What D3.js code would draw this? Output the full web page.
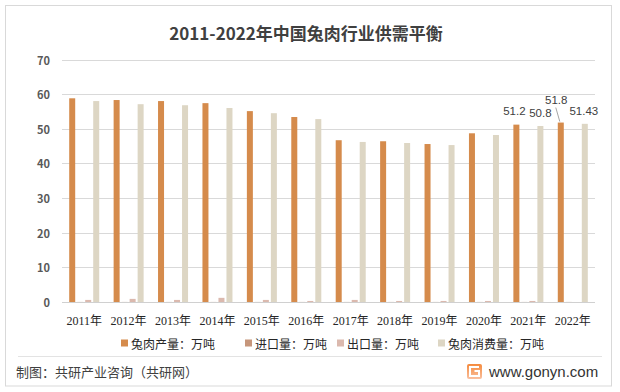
<!DOCTYPE html>
<html lang="zh">
<head>
<meta charset="UTF-8" />
<title>2011-2022年中国兔肉行业供需平衡</title>
<script src="https://d3js.org/d3.v7.min.js"></script>
<style>
  body { margin: 0; background: #fff; }
  svg { display: block; font-family: "Noto Sans CJK SC", "Noto Sans", sans-serif; }
  .grid line { stroke: #d9d9d9; stroke-width: 1; }
  .ylab text { fill: #595959; font-size: 11px; font-weight: bold; }
  .xlab text { fill: #262626; font-size: 12px; font-family: "Liberation Serif", "Noto Sans CJK SC", serif; }
  .legend text { fill: #262626; font-size: 12px; }
  .val { fill: #404040; font-size: 11.5px; font-family: "Liberation Sans", Arial, sans-serif; }
</style>
</head>
<body>
<svg id="chart" width="620" height="392"></svg>
<script>
const years = ["2011年","2012年","2013年","2014年","2015年","2016年","2017年","2018年","2019年","2020年","2021年","2022年"];
const production  = [58.8, 58.3, 58.0, 57.4, 55.1, 53.4, 46.7, 46.4, 45.6, 48.7, 51.2, 51.8];
const imports     = [0.02, 0.02, 0.02, 0.02, 0.02, 0.02, 0.02, 0.02, 0.02, 0.02, 0.02, 0.02];
const exportsAmt  = [0.6, 0.9, 0.6, 1.2, 0.6, 0.3, 0.6, 0.3, 0.3, 0.3, 0.3, 0];
const consumption = [58.0, 57.1, 56.8, 56.0, 54.5, 52.8, 46.2, 45.9, 45.3, 48.2, 50.8, 51.43];
const seriesNames = ["兔肉产量：万吨", "进口量：万吨", "出口量：万吨", "兔肉消费量：万吨"];
const yTicks = [0, 10, 20, 30, 40, 50, 60, 70];

const seriesValues = [production, imports, exportsAmt, consumption];
const colors = ["#d58b4c", "#c6967b", "#dbb9ae", "#ddd6c4"];

const svg = d3.select("#chart");
const plotL = 62, plotR = 595, plotT = 59.5, plotB = 302;

// outer frame
svg.append("rect")
  .attr("x", 5.5).attr("y", 5.5).attr("width", 606).attr("height", 380.5)
  .attr("fill", "#fff").attr("stroke", "#d9d9d9");

svg.append("text")
  .attr("x", 306).attr("y", 32)
  .attr("text-anchor", "middle").attr("dominant-baseline", "central")
  .attr("font-size", 17).attr("font-weight", "bold").attr("fill", "#404040")
  .text("2011-2022年中国兔肉行业供需平衡");

const x0 = d3.scaleBand().domain(years).range([plotL, plotR]);
const x1 = d3.scaleBand().domain(d3.range(4)).range([0, x0.bandwidth()])
  .paddingInner(0.25).paddingOuter(0.9);
const y = d3.scaleLinear().domain([0, 70]).range([plotB, plotT]);

// gridlines
svg.append("g").attr("class", "grid")
  .selectAll("line").data(yTicks.slice(1)).join("line")
  .attr("x1", plotL).attr("x2", plotR)
  .attr("y1", d => Math.round(y(d)) + 0.5).attr("y2", d => Math.round(y(d)) + 0.5);

svg.append("g").attr("class", "ylab")
  .selectAll("text").data(yTicks).join("text")
  .attr("x", 50).attr("y", d => y(d))
  .attr("text-anchor", "end").attr("dominant-baseline", "central")
  .text(d => d);

// bars
const groups = svg.append("g").selectAll("g").data(years).join("g")
  .attr("transform", d => `translate(${x0(d)},0)`);
groups.selectAll("rect")
  .data((d, i) => seriesValues.map((s, k) => ({ k, v: s[i] })))
  .join("rect")
  .attr("x", d => x1(d.k))
  .attr("width", x1.bandwidth())
  .attr("y", d => y(d.v))
  .attr("height", d => y(0) - y(d.v))
  .attr("fill", d => colors[d.k]);

// baseline
svg.append("line")
  .attr("x1", plotL).attr("x2", plotR)
  .attr("y1", plotB + 0.5).attr("y2", plotB + 0.5)
  .attr("stroke", "#d0d0d0");

svg.append("g").attr("class", "xlab")
  .selectAll("text").data(years).join("text")
  .attr("x", d => x0(d) + x0.bandwidth() / 2).attr("y", 321)
  .attr("text-anchor", "middle").attr("dominant-baseline", "central")
  .text(d => d);

// data labels for the last two years
const labels = [
  { s: 0, i: 10, dx: -2, dy: -13.5 },
  { s: 3, i: 10, dx: 0, dy: -13 },
  { s: 0, i: 11, dx: -4.5, dy: -23 },
  { s: 3, i: 11, dx: -1, dy: -13 }
];
labels.forEach(l => {
  const v = seriesValues[l.s][l.i];
  const cx = x0(years[l.i]) + x1(l.s) + x1.bandwidth() / 2;
  const cy = y(v);
  svg.append("text").attr("class", "val")
    .attr("x", cx + l.dx).attr("y", cy + l.dy)
    .attr("text-anchor", "middle").attr("dominant-baseline", "central")
    .text(v);
  if (l.dy < -20) {
    svg.append("line")
      .attr("x1", cx - 5).attr("y1", cy + l.dy + 8)
      .attr("x2", cx - 1).attr("y2", cy - 1)
      .attr("stroke", "#a6a6a6").attr("stroke-width", 1);
  }
});

// legend
const legendX = [121, 245, 337, 438];
const lg = svg.append("g").attr("class", "legend")
  .selectAll("g").data(seriesNames).join("g")
  .attr("transform", (d, i) => `translate(${legendX[i]},343)`);
lg.append("rect").attr("x", 0).attr("y", -3.5).attr("width", 7).attr("height", 7)
  .attr("fill", (d, i) => colors[i]);
lg.append("text").attr("x", 10).attr("y", 0).attr("dominant-baseline", "central")
  .text(d => d);

// footer
svg.append("line")
  .attr("x1", 18).attr("x2", 602).attr("y1", 356.5).attr("y2", 356.5)
  .attr("stroke", "#e3e3e3");
svg.append("text")
  .attr("x", 16).attr("y", 371).attr("dominant-baseline", "central")
  .attr("font-size", 13).attr("fill", "#404040")
  .text("制图：共研产业咨询（共研网）");

const grad = svg.append("defs").append("linearGradient").attr("id", "lg")
  .attr("x1", 0).attr("y1", 0).attr("x2", 0).attr("y2", 1);
grad.append("stop").attr("offset", 0).attr("stop-color", "#f58a3c");
grad.append("stop").attr("offset", 1).attr("stop-color", "#f9c0a0");
svg.append("rect").attr("x", 467).attr("y", 364).attr("width", 15).attr("height", 15)
  .attr("rx", 2).attr("fill", "url(#lg)");
svg.append("path")
  .attr("d", "M479,367 L470,367 L470,376 L479,376 L479,371 L474.5,371")
  .attr("fill", "none").attr("stroke", "#fff").attr("stroke-width", 2);
svg.append("text")
  .attr("x", 489).attr("y", 371).attr("dominant-baseline", "central")
  .attr("font-size", 15).attr("fill", "#333")
  .attr("font-family", "Liberation Sans, Arial, sans-serif")
  .text("www.gonyn.com");
</script>
</body>
</html>
